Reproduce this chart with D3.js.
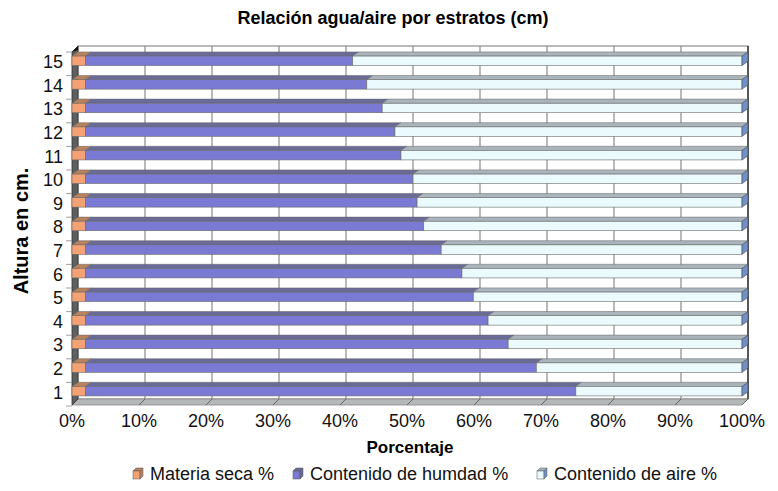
<!DOCTYPE html>
<html>
<head>
<meta charset="utf-8">
<script src="https://cdn.jsdelivr.net/npm/d3@7"></script>
<style>
  body { margin: 0; background: #fff; }
  svg { font-family: "Liberation Sans", Arial, sans-serif; }
</style>
</head>
<body>
<div id="root"></div>
<script>
// alturas (cm), de abajo hacia arriba
const alturas = [1, 2, 3, 4, 5, 6, 7, 8, 9, 10, 11, 12, 13, 14, 15];
const materiaSeca = [2, 2, 2, 2, 2, 2, 2, 2, 2, 2, 2, 2, 2, 2, 2];
const humedad = [73.2, 67.3, 63.1, 60.1, 57.9, 56.2, 53.1, 50.5, 49.5, 48.9, 47.1, 46.2, 44.3, 42.0, 39.9];
const aire = [24.8, 30.7, 34.9, 37.9, 40.1, 41.8, 44.9, 47.5, 48.5, 49.1, 50.9, 51.8, 53.7, 56.0, 58.1];
const xTicks = [0, 10, 20, 30, 40, 50, 60, 70, 80, 90, 100];
const serieNames = ["Materia seca %", "Contenido de humdad %", "Contenido de aire %"];

const outerWidth = 778, outerHeight = 491;
const depth = 6;

const front = { fill: ["#f4a274", "#7a7ad4", "#eafafd"], top: ["#b9825e", "#6b6b98", "#a9b4bc"] };
const capFill = "#7191c6";

const rows = alturas.map((a, i) => ({ altura: a, seca: materiaSeca[i], hum: humedad[i], aire: aire[i] }));
const keys = ["seca", "hum", "aire"];
const stacked = d3.stack().keys(keys)(rows);

const x = d3.scaleLinear().domain([0, 100]).range([72, 742]);
const y = d3.scaleBand().domain(alturas.slice().reverse()).range([49, 403]).paddingInner(0.6).paddingOuter(0.3);

const svg = d3.select("#root").append("svg")
  .attr("width", outerWidth).attr("height", outerHeight);

const wallTop = 46, floorY = 405;

// pared del fondo
svg.append("rect")
  .attr("x", x(0) + depth).attr("y", wallTop)
  .attr("width", x(100) - x(0)).attr("height", floorY - depth - wallTop)
  .attr("fill", "#fff").attr("stroke", "#777").attr("stroke-width", 1);

// líneas de cuadrícula
svg.append("g").selectAll("line")
  .data(xTicks.slice(1, -1))
  .join("line")
  .attr("x1", d => x(d) + depth).attr("x2", d => x(d) + depth)
  .attr("y1", wallTop).attr("y2", floorY - depth)
  .attr("stroke", "#8a8a8a").attr("stroke-width", 1.2);

svg.append("line")
  .attr("x1", x(100) + depth).attr("x2", x(100) + depth)
  .attr("y1", wallTop).attr("y2", floorY - depth)
  .attr("stroke", "#222").attr("stroke-width", 1.3);

// suelo
svg.append("path")
  .attr("d", `M${x(0)},${floorY} L${x(0) + depth},${floorY - depth} L${x(100) + depth},${floorY - depth} L${x(100)},${floorY} Z`)
  .attr("fill", "#b4b8b8").attr("stroke", "#888").attr("stroke-width", 0.8);

svg.append("g").selectAll("line")
  .data(xTicks)
  .join("line")
  .attr("x1", d => x(d)).attr("x2", d => x(d) + depth)
  .attr("y1", floorY).attr("y2", floorY - depth)
  .attr("stroke", "#666").attr("stroke-width", 1);

// pared izquierda
svg.append("path")
  .attr("d", `M${x(0)},${floorY} L${x(0)},${wallTop + depth} L${x(0) + depth},${wallTop} L${x(0) + depth},${floorY - depth} Z`)
  .attr("fill", "#5d6060").attr("stroke", "#333").attr("stroke-width", 0.8);
svg.append("path")
  .attr("d", `M${x(0)},${wallTop + depth} L${x(0) + depth},${wallTop} L${x(0) + depth},${wallTop + 4} Z`)
  .attr("fill", "#111");

// barras
const layer = svg.append("g").selectAll("g")
  .data(stacked)
  .join("g");

layer.selectAll(".top")
  .data((s, k) => s.map(d => ({ d, k })))
  .join("path")
  .attr("class", "top")
  .attr("d", ({ d }) => {
    const y0 = y(d.data.altura), x0 = x(d[0]), x1 = x(d[1]);
    return `M${x0},${y0} L${x0 + depth},${y0 - depth * 0.7} L${x1 + depth},${y0 - depth * 0.7} L${x1},${y0} Z`;
  })
  .attr("fill", ({ k }) => front.top[k])
  .attr("stroke", "#666").attr("stroke-width", 0.5);

layer.selectAll(".face")
  .data((s, k) => s.map(d => ({ d, k })))
  .join("rect")
  .attr("class", "face")
  .attr("x", ({ d }) => x(d[0]))
  .attr("y", ({ d }) => y(d.data.altura))
  .attr("width", ({ d }) => x(d[1]) - x(d[0]))
  .attr("height", y.bandwidth())
  .attr("fill", ({ k }) => front.fill[k])
  .attr("stroke", "#6a6a6a").attr("stroke-width", 0.6);

// lado derecho de la última serie
svg.append("g").selectAll("path")
  .data(stacked[2])
  .join("path")
  .attr("d", d => {
    const y0 = y(d.data.altura), x1 = x(d[1]), h = y.bandwidth();
    return `M${x1},${y0} L${x1 + depth},${y0 - depth * 0.7} L${x1 + depth},${y0 + h - depth * 0.7} L${x1},${y0 + h} Z`;
  })
  .attr("fill", capFill).attr("stroke", "#445").attr("stroke-width", 0.6);

// eje Y
const yAxis = svg.append("g");
yAxis.selectAll("text")
  .data(alturas)
  .join("text")
  .attr("x", 63)
  .attr("y", d => y(d) + y.bandwidth() / 2 + 1)
  .attr("dy", "0.35em")
  .attr("text-anchor", "end")
  .attr("font-size", 18)
  .attr("fill", "#111")
  .text(d => d);
yAxis.selectAll("line")
  .data(d3.range(16))
  .join("line")
  .attr("x1", 66).attr("x2", x(0))
  .attr("y1", i => y.range()[0] + 3 + i * y.step())
  .attr("y2", i => y.range()[0] + 3 + i * y.step())
  .attr("stroke", "#888").attr("stroke-width", 0.8);

// eje X
svg.append("g").selectAll("text")
  .data(xTicks)
  .join("text")
  .attr("x", d => x(d))
  .attr("y", 421)
  .attr("dy", "0.35em")
  .attr("text-anchor", "middle")
  .attr("font-size", 18)
  .attr("fill", "#111")
  .text(d => d + "%");

// títulos
svg.append("text")
  .attr("x", 393).attr("y", 18).attr("dy", "0.35em")
  .attr("text-anchor", "middle")
  .attr("font-size", 18).attr("font-weight", "bold")
  .text("Relación agua/aire por estratos (cm)");

svg.append("text")
  .attr("transform", "translate(21, 231) rotate(-90)")
  .attr("dy", "0.35em")
  .attr("text-anchor", "middle")
  .attr("font-size", 20).attr("font-weight", "bold")
  .text("Altura en cm.");

svg.append("text")
  .attr("x", 410).attr("y", 447).attr("dy", "0.35em")
  .attr("text-anchor", "middle")
  .attr("font-size", 17).attr("font-weight", "bold")
  .text("Porcentaje");

// leyenda
const legendX = [133, 293, 537];
const legend = svg.append("g").selectAll("g")
  .data(serieNames)
  .join("g")
  .attr("transform", (d, i) => `translate(${legendX[i]}, 474)`);

legend.append("path")
  .attr("d", "M0,-3 L3,-6 L10,-6 L7,-3 Z")
  .attr("fill", (d, i) => front.top[i]).attr("stroke", "#555").attr("stroke-width", 0.5);
legend.append("rect")
  .attr("x", 0).attr("y", -3).attr("width", 7).attr("height", 8)
  .attr("fill", (d, i) => front.fill[i]).attr("stroke", "#555").attr("stroke-width", 0.5);
legend.append("path")
  .attr("d", "M7,-3 L10,-6 L10,2 L7,5 Z")
  .attr("fill", (d, i) => i === 2 ? capFill : front.top[i]).attr("stroke", "#555").attr("stroke-width", 0.5);
legend.append("text")
  .attr("x", 17).attr("y", 0).attr("dy", "0.35em")
  .attr("font-size", 18)
  .attr("fill", "#111")
  .text(d => d);
</script>
</body>
</html>
